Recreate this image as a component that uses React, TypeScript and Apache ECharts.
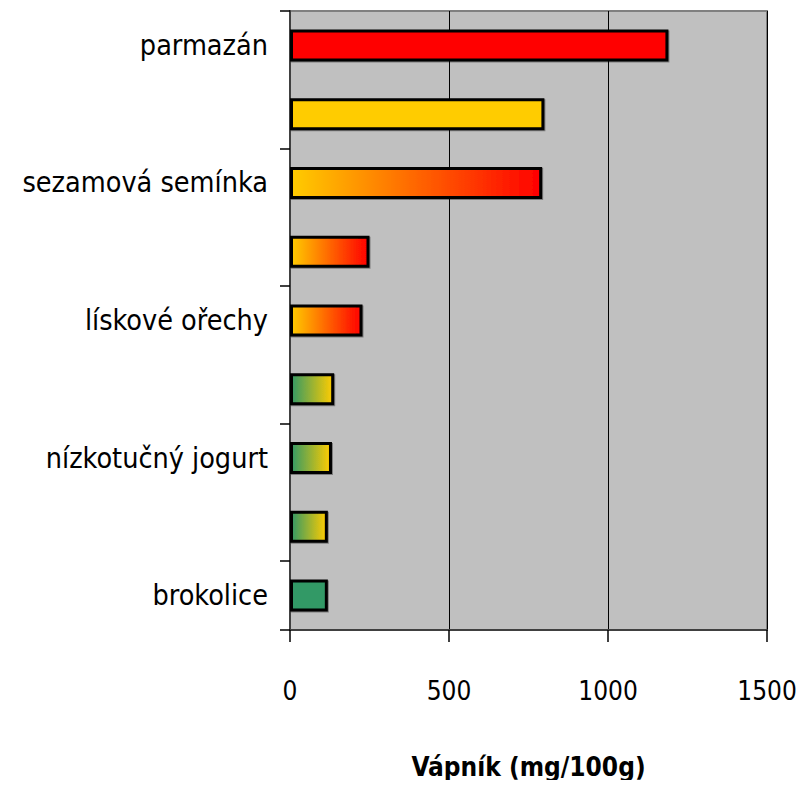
import React, { useEffect, useRef } from "react";
import * as echarts from "echarts";

const categories = [
  "parmazán",
  "eidam",
  "sezamová semínka",
  "mandle",
  "lískové ořechy",
  "tvaroh",
  "nízkotučný jogurt",
  "mléko",
  "brokolice",
];
const values = [1190, 800, 793, 250, 228, 139, 132, 119, 119];
// [start colour, end colour] of horizontal gradient per bar
const barColors: [string, string][] = [
  ["#FF0000", "#FF0000"],
  ["#FFCC00", "#FFCC00"],
  ["#FFCC00", "#FF0000"],
  ["#FFCC00", "#FF0000"],
  ["#FFCC00", "#FF0000"],
  ["#339966", "#FFCC00"],
  ["#339966", "#FFCC00"],
  ["#339966", "#FFCC00"],
  ["#339966", "#339966"],
];
const xTicks = [0, 500, 1000, 1500];
const xTitle = "Vápník (mg/100g)";

const FONT = "'Liberation Sans Narrow', 'DejaVu Sans Condensed', 'Liberation Sans', sans-serif";

export default function App() {
  const ref = useRef<HTMLDivElement>(null);
  useEffect(() => {
    if (!ref.current) return;
    const chart = echarts.init(ref.current, null, { renderer: "svg" });
    chart.setOption({
      animation: false,
      grid: {
        left: 290,
        top: 11,
        right: 40,
        bottom: 158,
        show: true,
        backgroundColor: "#C0C0C0",
        borderColor: "#808080",
        borderWidth: 2,
      },
      xAxis: {
        type: "value",
        min: xTicks[0],
        max: xTicks[xTicks.length - 1],
        interval: 500,
        name: xTitle,
        nameLocation: "middle",
        nameGap: 124,
        nameTextStyle: {
          fontFamily: FONT,
          fontSize: 26,
          fontWeight: "bold",
          color: "#000",
        },
        axisLine: { show: true, lineStyle: { color: "#404040", width: 2 } },
        axisTick: { show: true, length: 12, lineStyle: { color: "#000", width: 1.5 } },
        axisLabel: {
          margin: 48,
          fontFamily: FONT,
          fontSize: 26,
          color: "#000",
          formatter: (v: number) => String(v),
        },
        splitLine: { show: true, lineStyle: { color: "#000", width: 1 } },
      },
      yAxis: {
        type: "category",
        data: categories,
        inverse: true,
        axisLine: { show: true, lineStyle: { color: "#404040", width: 2 } },
        axisTick: { show: true, length: 10, lineStyle: { color: "#000", width: 1.5 } },
        axisLabel: {
          interval: 1,
          margin: 22,
          fontFamily: FONT,
          fontSize: 28.5,
          color: "#000",
        },
      },
      series: [
        {
          type: "bar",
          barWidth: 32,
          data: values.map((v, i) => ({
            value: v,
            itemStyle: {
              color: new echarts.graphic.LinearGradient(0, 0, 1, 0, [
                { offset: 0, color: barColors[i][0] },
                { offset: 1, color: barColors[i][1] },
              ]),
              borderColor: "#000",
              borderWidth: 3,
              shadowColor: "rgba(0,0,0,0.35)",
              shadowOffsetX: 1,
              shadowOffsetY: 1,
              shadowBlur: 1,
            },
          })),
        },
      ],
    });
    return () => chart.dispose();
  }, []);
  return <div ref={ref} style={{ width: 807, height: 788, margin: -8 }} />;
}
